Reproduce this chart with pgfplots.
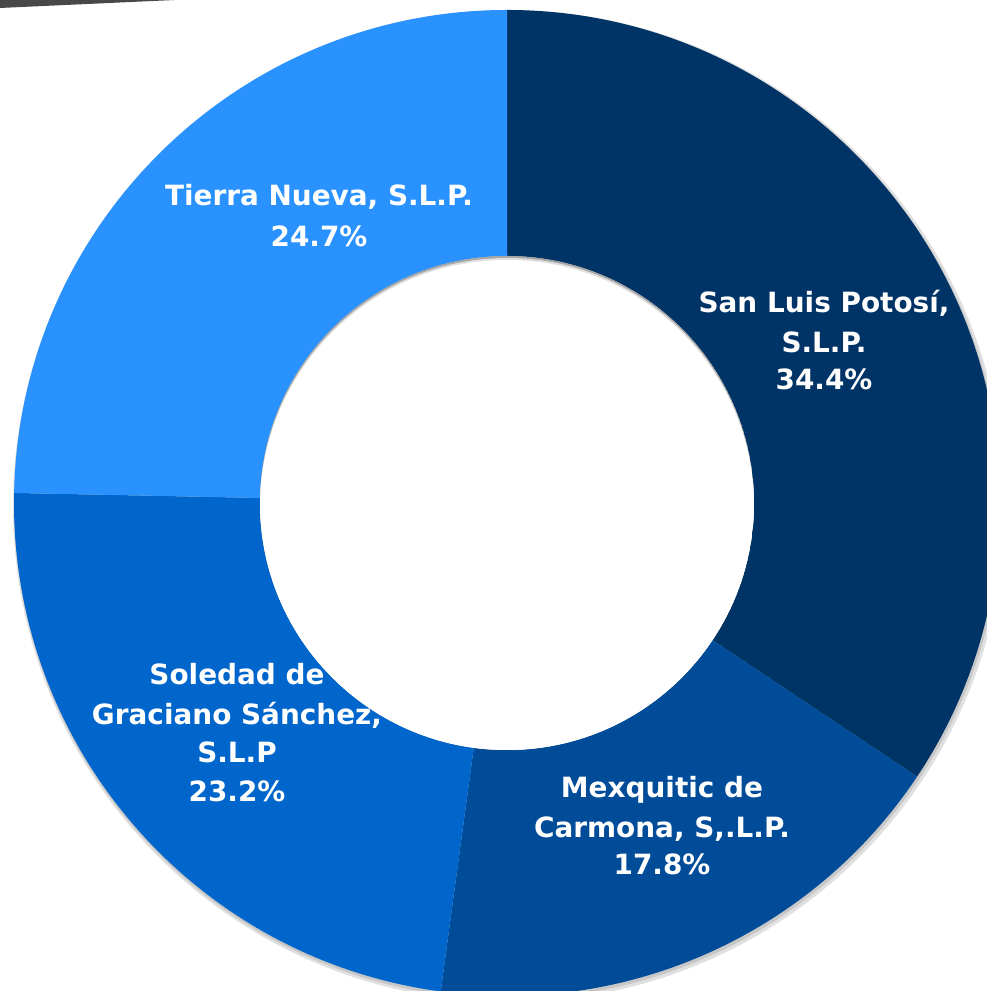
\documentclass[border=0pt]{standalone}
\usepackage{pgfplots}
\pgfplotsset{compat=1.18}
\usepackage{pgfplotstable}
\usepackage{fontspec}
\setmainfont{DejaVu Sans}
\definecolor{cSLP}{RGB}{0,51,102}
\definecolor{cMex}{RGB}{0,76,153}
\definecolor{cSol}{RGB}{0,102,204}
\definecolor{cTie}{RGB}{41,146,255}
\definecolor{cBand}{RGB}{72,72,72}

\pgfplotstableread[col sep=comma]{
name,value
SanLuis,34.4
Mexquitic,17.8
Soledad,23.2
TierraNueva,24.7
}\donutdata

\begin{document}
\begin{tikzpicture}
\pgfplotstablegetelem{0}{value}\of\donutdata \let\vA\pgfplotsretval
\pgfplotstablegetelem{1}{value}\of\donutdata \let\vB\pgfplotsretval
\pgfplotstablegetelem{2}{value}\of\donutdata \let\vC\pgfplotsretval
\pgfplotstablegetelem{3}{value}\of\donutdata \let\vD\pgfplotsretval
\pgfmathsetmacro\tot{\vA+\vB+\vC+\vD}
\pgfmathsetmacro\aA{90}
\pgfmathsetmacro\aB{\aA-360*\vA/\tot}
\pgfmathsetmacro\aC{\aB-360*\vB/\tot}
\pgfmathsetmacro\aD{\aC-360*\vC/\tot}
\pgfmathsetmacro\aE{\aD-360*\vD/\tot}
\def\cx{507}\def\cy{488}\def\Ro{493}\def\Ri{247}
\newcommand\sector[3]{%
  \fill[#3] (axis cs:{\cx+\Ro*cos(#1)},{\cy+\Ro*sin(#1)})
    arc[start angle=#1,end angle=#2,radius=\Ro bp]
    -- (axis cs:{\cx+\Ri*cos(#2)},{\cy+\Ri*sin(#2)})
    arc[start angle=#2,end angle=#1,radius=\Ri bp] -- cycle;}
\begin{axis}[scale only axis, width=987bp, height=991bp,
  xmin=0, xmax=987, ymin=0, ymax=991, hide axis, clip=true]
\addplot[draw=none] coordinates {(0,0) (987,991)};
% top-left band
\fill[cBand] (axis cs:0,991) -- (axis cs:175,991) -- (axis cs:0,983) -- cycle;
% outer soft shadow
\fill[black!12] (axis cs:{\cx+2},{\cy-3}) circle[radius=496bp];
\fill[black!22] (axis cs:{\cx+1},{\cy-2}) circle[radius=494bp];
% sectors
\sector{\aA}{\aB}{cSLP}
\sector{\aB}{\aC}{cMex}
\sector{\aC}{\aD}{cSol}
\sector{\aD}{\aE}{cTie}
% inner shadow in the hole
\begin{scope}
\clip (axis cs:\cx,\cy) circle[radius=\Ri bp];
\fill[black!35] (axis cs:\cx,\cy) circle[radius=\Ri bp];
\fill[black!12] (axis cs:\cx,{\cy-2}) circle[radius=\Ri bp];
\fill[white] (axis cs:\cx,{\cy-4}) circle[radius=\Ri bp];
\end{scope}
% labels
\tikzset{lab/.style={anchor=base, text=white, inner sep=0pt,
  font=\bfseries\fontsize{28}{34}\selectfont}}
\node[lab] at (axis cs:824,678) {San Luis Potosí,};
\node[lab] at (axis cs:824,638) {S.L.P.};
\node[lab] at (axis cs:824,601) {34.4\%};
\node[lab] at (axis cs:662,193) {Mexquitic de};
\node[lab] at (axis cs:662,153) {Carmona, S,.L.P.};
\node[lab] at (axis cs:662,116) {17.8\%};
\node[lab] at (axis cs:237,306) {Soledad de};
\node[lab] at (axis cs:237,266) {Graciano Sánchez,};
\node[lab] at (axis cs:237,228) {S.L.P};
\node[lab] at (axis cs:237,189) {23.2\%};
\node[lab] at (axis cs:319,785) {Tierra Nueva, S.L.P.};
\node[lab] at (axis cs:319,744) {24.7\%};
\end{axis}
\end{tikzpicture}
\end{document}
